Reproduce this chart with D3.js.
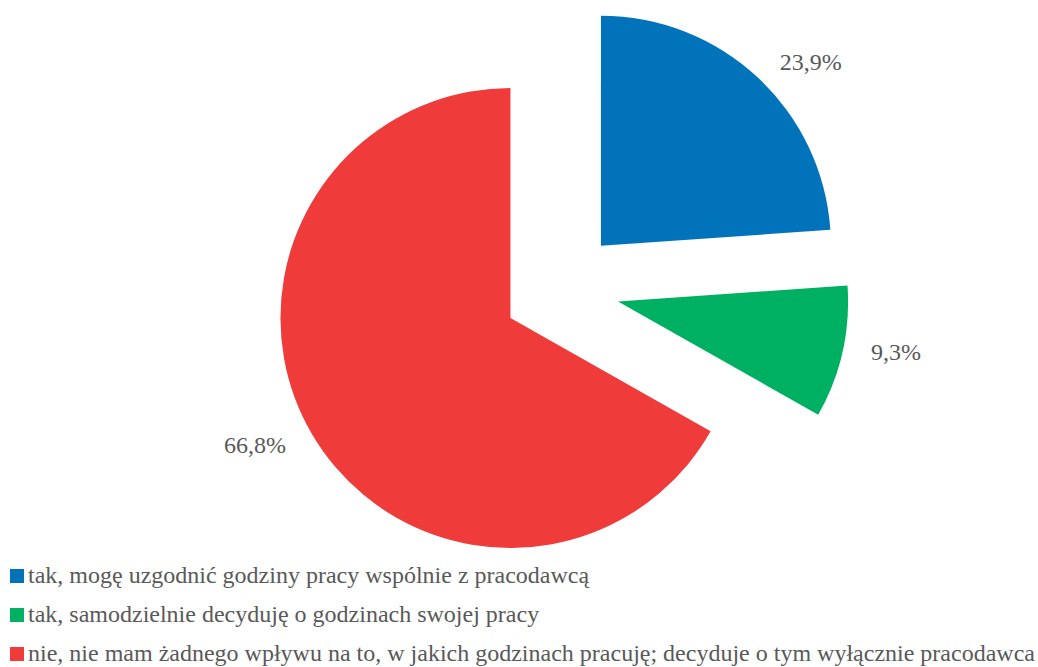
<!DOCTYPE html>
<html>
<head>
<meta charset="utf-8">
<script src="https://cdn.jsdelivr.net/npm/d3@7"></script>
<style>
  html, body { margin: 0; padding: 0; background: #fff; }
  svg { display: block; }
</style>
</head>
<body>
<svg id="chart" width="1038" height="667"></svg>
<script>
// Answers and their shares (%)
const categories = [
  "tak, mogę uzgodnić godziny pracy wspólnie z pracodawcą",
  "tak, samodzielnie decyduję o godzinach swojej pracy",
  "nie, nie mam żadnego wpływu na to, w jakich godzinach pracuję; decyduje o tym wyłącznie pracodawca"
];
const values = [23.9, 9.3, 66.8];
const valueLabels = ["23,9%", "9,3%", "66,8%"];
const colors = ["#0173BA", "#00B062", "#EF3B3A"];

const svg = d3.select("#chart");
const cx = 561, cy = 288.5, radius = 230, explode = 58.5;
const textColor = "#595959";
const fontFamily = "Liberation Serif";

const pie = d3.pie().sort(null).value(d => d)(values);
const arc = d3.arc().innerRadius(0).outerRadius(radius);

const g = svg.append("g").attr("transform", `translate(${cx},${cy})`);

function polar(angle, dist) {
  return [Math.sin(angle) * dist, -Math.cos(angle) * dist];
}
const mid = d => (d.startAngle + d.endAngle) / 2;

g.selectAll("path.slice")
  .data(pie)
  .join("path")
  .attr("class", "slice")
  .attr("d", arc)
  .attr("fill", (d, i) => colors[i])
  .attr("transform", d => {
    const [x, y] = polar(mid(d), explode);
    return `translate(${x},${y})`;
  });

// Percentage labels outside each exploded slice (distance, angular nudge in degrees)
const labelDist = [337, 341, 344];
const labelNudge = [4.8, -2.1, 3.1];
const labelPos = (d, i) => polar(mid(d) + labelNudge[i] * Math.PI / 180, labelDist[i]);

g.selectAll("text.value")
  .data(pie)
  .join("text")
  .attr("class", "value")
  .attr("x", (d, i) => labelPos(d, i)[0])
  .attr("y", (d, i) => labelPos(d, i)[1])
  .attr("text-anchor", "middle")
  .attr("dominant-baseline", "central")
  .attr("font-family", fontFamily)
  .attr("font-size", 24)
  .attr("fill", textColor)
  .text((d, i) => valueLabels[i]);

// Legend
const legend = svg.append("g").attr("transform", "translate(10,583)");
const item = legend.selectAll("g.item")
  .data(categories)
  .join("g")
  .attr("class", "item")
  .attr("transform", (d, i) => `translate(0,${i * 39})`);

item.append("rect")
  .attr("x", 0).attr("y", -14)
  .attr("width", 14).attr("height", 14)
  .attr("fill", (d, i) => colors[i]);

item.append("text")
  .attr("x", 18).attr("y", 0)
  .attr("font-family", fontFamily)
  .attr("font-size", 24)
  .attr("fill", textColor)
  .text(d => d);
</script>
</body>
</html>
